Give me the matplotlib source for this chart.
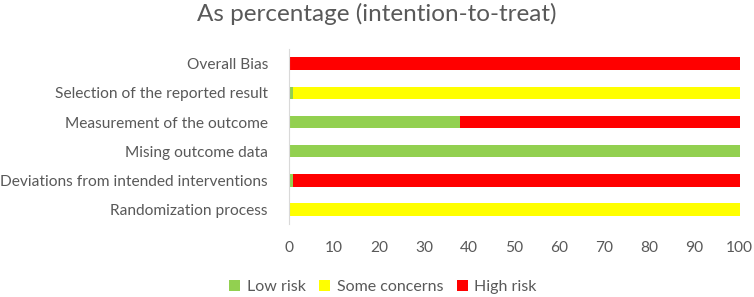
import matplotlib.pyplot as plt
import numpy as np

plt.rcParams['font.family'] = ['Lato', 'DejaVu Sans']

# domains, bottom to top
domains = [
    "Randomization process",
    "Deviations from intended interventions",
    "Mising outcome data",
    "Measurement of the outcome",
    "Selection of the reported result",
    "Overall Bias",
]
low_risk = [0, 1, 100, 38, 1, 0]
some_concerns = [100, 0, 0, 0, 99, 0]
high_risk = [0, 99, 0, 62, 0, 100]

series = [
    ("Low risk", low_risk, "#92D050"),
    ("Some concerns", some_concerns, "#FFFF00"),
    ("High risk", high_risk, "#FF0000"),
]
text_col = "#595959"

fig = plt.figure(figsize=(7.54, 2.97), dpi=100)
ax = fig.add_axes([0.383, 0.245, 0.598, 0.59])

y = np.arange(len(domains))
left = np.zeros(len(domains))
for name, vals, col in series:
    ax.barh(y, vals, left=left, height=0.42, color=col, label=name)
    left += np.array(vals)

ax.set_xlim(0, 100)
ax.set_ylim(-0.5, len(domains) - 0.5)
ax.set_xticks(range(0, 101, 10))
ax.set_yticks(y)
ax.set_yticklabels(domains)
ax.tick_params(length=0, labelsize=11.2, colors=text_col)
ax.tick_params(axis="x", pad=12)
ax.tick_params(axis="y", pad=15)
for s in ["top", "right", "bottom"]:
    ax.spines[s].set_visible(False)
ax.spines["left"].set_color("#d9d9d9")

fig.suptitle("As percentage (intention-to-treat)", y=0.99, fontsize=17.5, color=text_col)

handles, labels = ax.get_legend_handles_labels()
leg = fig.legend(handles, labels, loc="center", bbox_to_anchor=(0.508, 0.034), ncol=3,
                 frameon=False, fontsize=11.5, handlelength=0.7, handleheight=0.7,
                 handletextpad=0.4, columnspacing=0.85, borderpad=0)
for t in leg.get_texts():
    t.set_color(text_col)

fig.savefig("out.png", dpi=100)
